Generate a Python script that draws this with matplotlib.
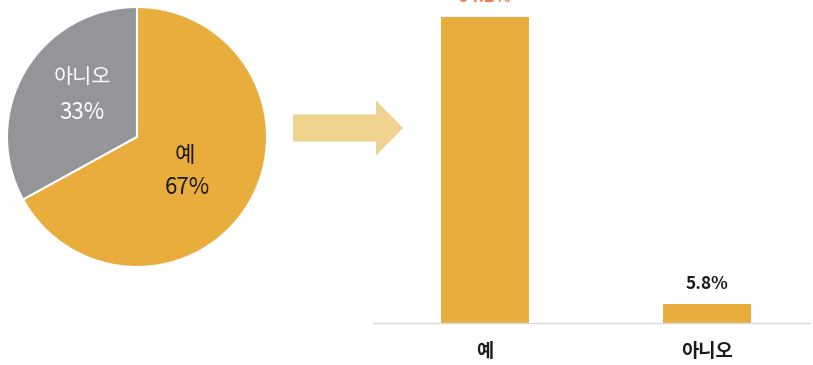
import matplotlib.pyplot as plt
from matplotlib.patches import FancyArrow

plt.rcParams['font.family'] = ['Noto Sans CJK KR', 'DejaVu Sans']

# pie data
pie_labels = ['아니오', '예']
pie_values = [33, 67]
pie_colors = ['#939598', '#E8AD3D']

# bar data
bar_labels = ['예', '아니오']
bar_values = [94.2, 5.8]
bar_color = '#E8AD3D'
value_colors = ['#EE8050', '#1a1a1a']

W, H = 813, 365
fig = plt.figure(figsize=(W / 100, H / 100), dpi=100)

# ---- arrow (middle), drawn on a full-figure axes behind the rest ----
ax_bg = fig.add_axes([0, 0, 1, 1], zorder=-1)
ax_bg.set_xlim(0, W)
ax_bg.set_ylim(H, 0)
ax_bg.axis('off')
ax_bg.add_patch(FancyArrow(293, 128, 110, 0, width=27, head_width=55, head_length=27,
                           length_includes_head=True, color='#F0D38F', linewidth=0))

# ---- pie (left) ----
cx, cy, r = 137, 137, 130
ax_pie = fig.add_axes([(cx - r) / W, (H - cy - r) / H, 2 * r / W, 2 * r / H])
ax_pie.pie(pie_values, colors=pie_colors, startangle=90, counterclock=True,
           wedgeprops=dict(edgecolor='white', linewidth=1.5))
ax_pie.set_xlim(-1, 1)
ax_pie.set_ylim(-1, 1)
ax_pie.set_aspect('auto')
ax_pie.axis('off')

ax_pie.text(-0.42, 0.46, pie_labels[0], color='white', fontsize=15, ha='center', va='center')
ax_pie.text(-0.42, 0.19, f'{pie_values[0]}%', color='white', fontsize=16, ha='center', va='center')
ax_pie.text(0.37, -0.14, pie_labels[1], color='#1a1a1a', fontsize=16, ha='center', va='center')
ax_pie.text(0.39, -0.39, f'{pie_values[1]}%', color='#1a1a1a', fontsize=16, ha='center', va='center')

# ---- bars (right) ----
x0, x1, base = 373, 810, 323
ax_bar = fig.add_axes([x0 / W, (H - base) / H, (x1 - x0) / W, base / H])
ax_bar.patch.set_alpha(0)
pos = list(range(len(bar_values)))
ax_bar.bar(pos, bar_values, width=0.396, color=bar_color)
ax_bar.set_xlim(-0.5045, 1.464)
ax_bar.set_ylim(0, 94.2 * base / 306)
for sp in ['top', 'right', 'left']:
    ax_bar.spines[sp].set_visible(False)
ax_bar.spines['bottom'].set_color('#D9D9D9')
ax_bar.spines['bottom'].set_linewidth(1)
ax_bar.set_yticks([])
ax_bar.set_xticks(pos)
ax_bar.set_xticklabels(bar_labels, fontsize=13.5, fontweight='bold', color='#1a1a1a')
ax_bar.tick_params(axis='x', length=0, pad=14)

for p, v, c in zip(pos, bar_values, value_colors):
    ax_bar.annotate(f'{v}%', (p, v), xytext=(0, 8), textcoords='offset points',
                    ha='center', va='bottom', fontsize=12.5, fontweight='bold',
                    color=c, annotation_clip=False)

fig.savefig('out.png', dpi=100)
